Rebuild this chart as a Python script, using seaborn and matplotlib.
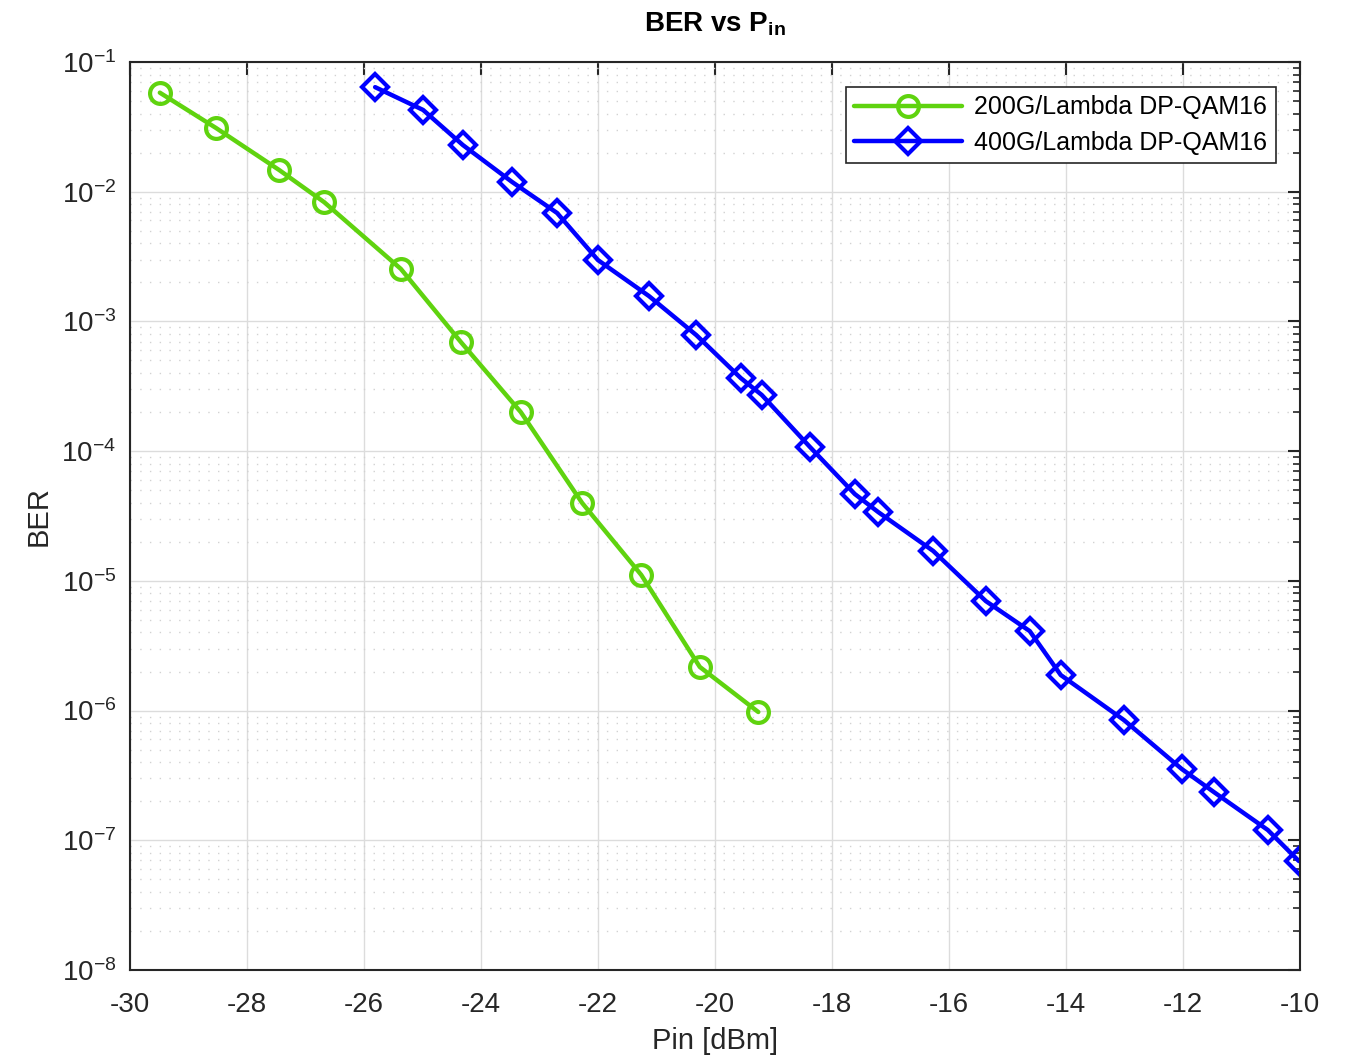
import seaborn as sns
import pandas as pd
import matplotlib.pyplot as plt
from matplotlib.ticker import LogLocator, NullFormatter

# values
pin_200g = [-29.49, -28.53, -27.45, -26.68, -25.37, -24.34, -23.32, -22.27, -21.26, -20.26, -19.26]
ber_200g = [5.8e-2, 3.1e-2, 1.47e-2, 8.3e-3, 2.54e-3, 6.9e-4, 2.0e-4, 3.98e-5, 1.11e-5, 2.17e-6, 9.75e-7]

pin_400g = [-25.81, -24.99, -24.31, -23.47, -22.70, -22.0, -21.13, -20.32, -19.56, -19.2,
            -18.38, -17.61, -17.21, -16.27, -15.37, -14.62, -14.09, -13.01, -12.02, -11.47,
            -10.55, -10.02]
ber_400g = [6.4e-2, 4.27e-2, 2.29e-2, 1.19e-2, 6.86e-3, 2.97e-3, 1.57e-3, 7.85e-4, 3.66e-4, 2.71e-4,
            1.08e-4, 4.67e-5, 3.39e-5, 1.70e-5, 6.98e-6, 4.1e-6, 1.88e-6, 8.45e-7, 3.54e-7, 2.35e-7,
            1.2e-7, 6.92e-8]

labels = ['200G/Lambda DP-QAM16', '400G/Lambda DP-QAM16']
colors = ['#5fd30f', '#0000ff']
x_ticks = list(range(-30, -9, 2))

sns.set_style('white')
plt.rcParams['font.family'] = ['Liberation Sans', 'DejaVu Sans']
plt.rcParams['mathtext.fontset'] = 'custom'
plt.rcParams['mathtext.bf'] = 'Liberation Sans:bold'
plt.rcParams['mathtext.rm'] = 'Liberation Sans'
plt.rcParams['mathtext.it'] = 'Liberation Sans'

df1 = pd.DataFrame({'Pin': pin_200g, 'BER': ber_200g})
df2 = pd.DataFrame({'Pin': pin_400g, 'BER': ber_400g})

fig = plt.figure(figsize=(13.45, 10.61), dpi=100)
ax = fig.add_axes([130 / 1345, 1 - 970 / 1061, 1170 / 1345, 908 / 1061])

sns.lineplot(x='Pin', y='BER', data=df1, ax=ax, color=colors[0], linewidth=3.2,
             marker='o', markersize=15, markerfacecolor='none', markeredgecolor=colors[0],
             markeredgewidth=3, label=labels[0])
sns.lineplot(x='Pin', y='BER', data=df2, ax=ax, color=colors[1], linewidth=3.2,
             marker='D', markersize=13, markerfacecolor='none', markeredgecolor=colors[1],
             markeredgewidth=3, label=labels[1])

ax.set_yscale('log')
ax.set_xlim(-30, -10)
ax.set_ylim(1e-8, 1e-1)
ax.set_xticks(x_ticks)
ax.set_xticklabels([str(t) for t in x_ticks])
ax.yaxis.set_major_locator(LogLocator(base=10, numticks=10))
ax.yaxis.set_minor_locator(LogLocator(base=10, subs=range(2, 10), numticks=100))
ax.yaxis.set_minor_formatter(NullFormatter())

ax.grid(True, which='major', color='#dcdcdc', linewidth=1, linestyle='-')
ax.grid(True, which='minor', axis='y', color='#d2d2d2', linewidth=1, linestyle=(0, (1, 6)))
ax.set_axisbelow(True)

ax.tick_params(which='both', direction='in', top=True, right=True, colors='#262626',
               labelsize=20, labelcolor='#262626')
ax.tick_params(which='major', length=9, width=1.5)
ax.tick_params(which='minor', length=5, width=1.2)
ax.tick_params(axis='x', which='major', pad=16)
ax.tick_params(axis='y', which='major', pad=10)
for s in ax.spines.values():
    s.set_color('#262626')
    s.set_linewidth(1.5)

ax.set_xlabel('Pin [dBm]', fontsize=21, color='#262626', labelpad=6)
ax.set_ylabel('BER', fontsize=21, color='#262626', labelpad=6)
ax.set_title(r'BER vs P$_{\mathbf{in}}$', fontsize=20, fontweight='bold', pad=22, color='black')

leg = ax.legend(loc='upper right', fontsize=18, frameon=True, fancybox=False,
                edgecolor='#262626', framealpha=1, borderaxespad=0.0,
                bbox_to_anchor=(0.9795, 0.973), handlelength=4.3, borderpad=0.35,
                labelspacing=0.45, handletextpad=0.5)
leg.get_frame().set_linewidth(1.2)
for t in leg.get_texts():
    t.set_color('black')

fig.savefig('out.png', dpi=100)
